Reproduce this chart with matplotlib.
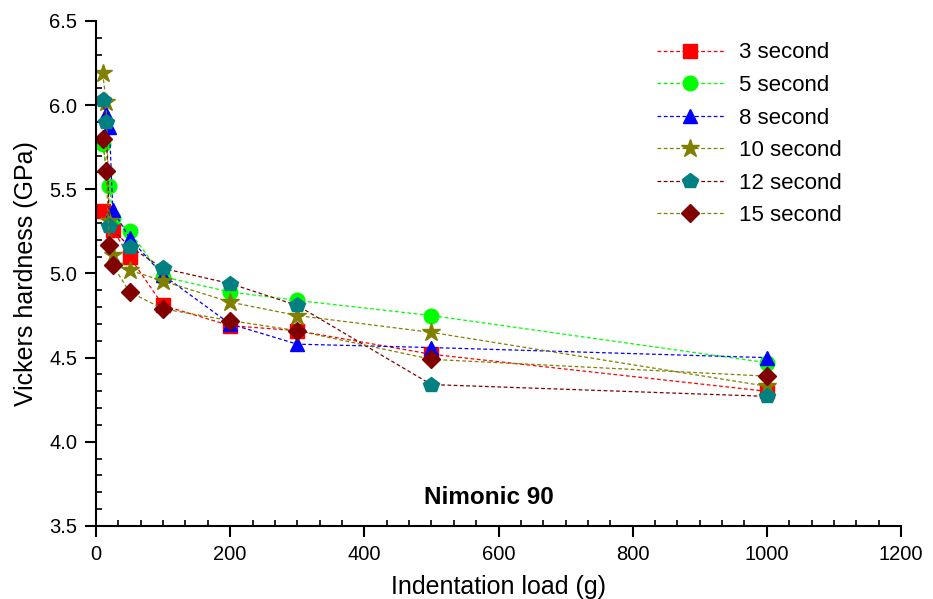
import numpy as np
import matplotlib.pyplot as plt
from matplotlib.ticker import MultipleLocator

plt.rcParams["font.family"] = ["Liberation Sans", "DejaVu Sans"]

# indentation loads (g) and hardness (GPa) for each dwell time
load_3s = [10, 25, 50, 100, 200, 300, 500, 1000]
hv_3s = [5.37, 5.26, 5.10, 4.81, 4.69, 4.66, 4.52, 4.30]

load_5s = [10, 20, 25, 50, 100, 200, 300, 500, 1000]
hv_5s = [5.77, 5.52, 5.33, 5.25, 4.98, 4.89, 4.84, 4.75, 4.47]

load_8s = [15, 20, 25, 50, 100, 200, 300, 500, 1000]
hv_8s = [5.95, 5.87, 5.38, 5.21, 4.99, 4.70, 4.58, 4.56, 4.50]

load_10s = [10, 15, 20, 25, 50, 100, 200, 300, 500, 1000]
hv_10s = [6.19, 6.02, 5.31, 5.11, 5.02, 4.955, 4.83, 4.75, 4.65, 4.33]

load_12s = [10, 15, 20, 50, 100, 200, 300, 500, 1000]
hv_12s = [6.03, 5.90, 5.28, 5.16, 5.03, 4.94, 4.81, 4.34, 4.27]

load_15s = [10, 15, 20, 25, 50, 100, 200, 300, 500, 1000]
hv_15s = [5.80, 5.61, 5.17, 5.05, 4.89, 4.79, 4.72, 4.66, 4.49, 4.39]

labels = ["3 second", "5 second", "8 second", "10 second", "12 second", "15 second"]


def main():
    fig = plt.figure(figsize=(9.33, 5.99), dpi=100)
    ax = fig.add_axes([0.1029, 0.1219, 0.8628, 0.8431])

    series = [
        (load_3s, hv_3s, "s", "#ff0000", "#ff0000", 9.5),
        (load_5s, hv_5s, "o", "#00ff00", "#00ff00", 10.5),
        (load_8s, hv_8s, "^", "#0000ff", "#0000ff", 10.5),
        (load_10s, hv_10s, "*", "#808000", "#808000", 13.5),
        (load_12s, hv_12s, "p", "#800000", "#008080", 11.5),
        (load_15s, hv_15s, "D", "#808000", "#800000", 9.5),
    ]
    for (x, y, m, lc, mc, ms), lab in zip(series, labels):
        ax.plot(x, y, linestyle=(0, (3, 2)), linewidth=0.9, color=lc,
                marker=m, markersize=ms, markerfacecolor=mc,
                markeredgecolor=mc, label=lab)

    ax.set_xlim(0, 1200)
    ax.set_ylim(3.5, 6.5)
    ax.xaxis.set_major_locator(MultipleLocator(200))
    ax.xaxis.set_minor_locator(MultipleLocator(200 / 6))
    ax.yaxis.set_major_locator(MultipleLocator(0.5))
    ax.yaxis.set_minor_locator(MultipleLocator(0.1))
    ax.yaxis.set_major_formatter(plt.FormatStrFormatter("%.1f"))

    ax.spines["top"].set_visible(False)
    ax.spines["right"].set_visible(False)
    ax.spines["left"].set_linewidth(1.5)
    ax.spines["bottom"].set_linewidth(1.5)
    ax.tick_params(which="major", direction="out", length=8, width=1.5,
                   labelsize=14.5, pad=5.5)
    ax.tick_params(which="minor", direction="in", length=4, width=1.2)

    ax.set_xlabel("Indentation load (g)", fontsize=18, labelpad=8)
    ax.set_ylabel("Vickers hardness (GPa)", fontsize=18, labelpad=8)

    ax.text(585, 3.67, "Nimonic 90", fontsize=17.5, fontweight="bold",
            ha="center", va="center")

    ax.legend(loc="upper left", bbox_to_anchor=(0.686, 0.975), frameon=False,
              fontsize=16, handlelength=3.0, labelspacing=0.52,
              handletextpad=0.68, borderaxespad=0)

    fig.savefig("out.png", dpi=100)
    plt.close()
    return 0


main()
